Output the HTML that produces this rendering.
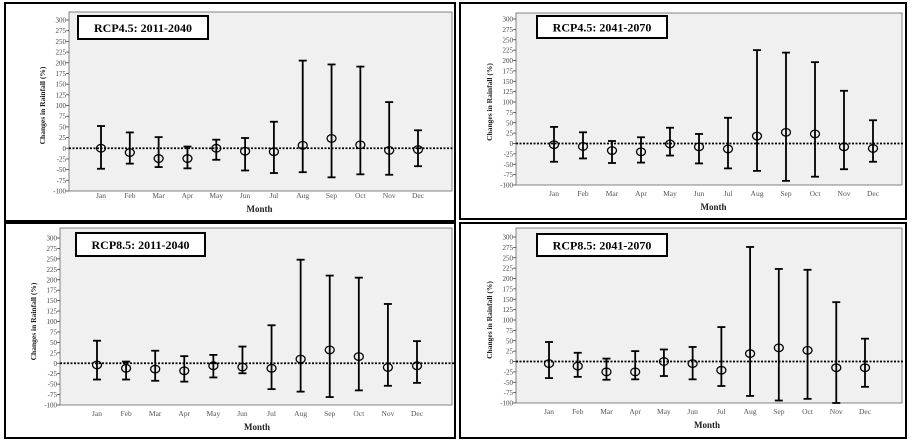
<!DOCTYPE html>
<html><head><meta charset="utf-8"><style>
body{margin:0;background:#fff;width:914px;height:446px;overflow:hidden}
svg{display:block;font-family:"Liberation Serif",serif}
</style></head><body>
<svg id="c" width="914" height="446"></svg>
<script>
const months=["Jan","Feb","Mar","Apr","May","Jun","Jul","Aug","Sep","Oct","Nov","Dec"];
const yTicks=[300,275,250,225,200,175,150,125,100,75,50,25,0,-25,-50,-75,-100];
const titles=["RCP4.5: 2011-2040","RCP4.5: 2041-2070","RCP8.5: 2011-2040","RCP8.5: 2041-2070"];
const means1=[0,-10,-24,-24,0,-7,-8,7,23,8,-5,-3];
const lows1=[-48,-36,-44,-47,-27,-52,-58,-56,-68,-61,-62,-42];
const highs1=[52,37,26,4,20,24,62,205,196,191,108,42];
const means2=[-3,-7,-17,-20,-1,-8,-13,18,27,23,-8,-12];
const lows2=[-44,-36,-47,-46,-29,-48,-60,-66,-90,-80,-62,-44];
const highs2=[40,27,6,15,38,23,62,225,219,196,127,56];
const means3=[-4,-12,-14,-18,-6,-9,-12,10,32,16,-10,-6];
const lows3=[-39,-39,-42,-44,-34,-24,-62,-68,-81,-65,-54,-47];
const highs3=[54,4,30,17,20,40,91,248,210,205,142,53];
const means4=[-5,-11,-25,-25,0,-5,-21,19,33,27,-15,-15];
const lows4=[-40,-37,-44,-43,-35,-43,-59,-83,-94,-90,-100,-61];
const highs4=[47,21,7,25,29,35,83,276,223,221,143,55];
const seriesMeans=[means1,means2,means3,means4];
const seriesLows=[lows1,lows2,lows3,lows4];
const seriesHighs=[highs1,highs2,highs3,highs4];
const L=[
 {bx:5,by:3,bw:450,bh:218,px:69,pt:12,pr:452,y300:20,ym100:191,x0:101,x11:418,tb:[78,16,130,23],ml:198,mt:212,yt:45},
 {bx:460,by:3,bw:446,bh:216,px:516,pt:13,pr:902,y300:19,ym100:185,x0:554,x11:873,tb:[537,16,130,22],ml:196,mt:210,yt:492},
 {bx:5,by:223,bw:450,bh:215,px:60,pt:228,pr:452,y300:238,ym100:405,x0:97,x11:417,tb:[76,233,129,23],ml:416,mt:430,yt:36},
 {bx:460,by:223,bw:446,bh:215,px:516,pt:228,pr:902,y300:237,ym100:403,x0:549,x11:865,tb:[537,234,130,22],ml:414,mt:428,yt:492}
];
const NS="http://www.w3.org/2000/svg";
const svg=document.getElementById('c');
function mk(t,a,p){const e=document.createElementNS(NS,t);for(const k in a)e.setAttribute(k,a[k]);(p||svg).appendChild(e);return e;}
L.forEach((g,pi)=>{
 const grp=mk('g',{});
 
 
 const ys=v=>g.y300+(300-v)*(g.ym100-g.y300)/400;
 const xs=i=>g.x0+i*(g.x11-g.x0)/11;
 const box=mk('rect',{x:g.bx,y:g.by,width:g.bw,height:g.bh,fill:'#fff',stroke:'#000','stroke-width':2},grp);
 
 
 const pa=mk('rect',{x:g.px,y:g.pt,width:g.pr-g.px,height:g.ym100-g.pt,fill:'#f0f0f0',stroke:'#666','stroke-width':0.8},grp);
 
 
 yTicks.forEach(v=>{
  const y=ys(v);
  mk('line',{x1:g.px-3,x2:g.px,y1:y,y2:y,stroke:'#444','stroke-width':0.8},grp);
  const t=mk('text',{x:g.px-3,y:y+2.5,'font-size':7,'text-anchor':'end',fill:'#444'},grp);
  t.textContent=v;
  
  
 });
 months.forEach((m,i)=>{
  const t=mk('text',{x:xs(i),y:g.ml,'font-size':7.5,'text-anchor':'middle',fill:'#555'},grp);
  t.textContent=m;
  
  
 });
 const mt=mk('text',{x:(g.x0+g.x11)/2,y:g.mt,'font-size':9,'font-weight':'bold','text-anchor':'middle',fill:'#222'},grp);
 mt.textContent='Month';
 
 
 const yc=(g.y300+g.ym100)/2;
 const yt=mk('text',{x:g.yt,y:yc,'font-size':7.5,'font-weight':'bold','text-anchor':'middle',fill:'#222',transform:`rotate(-90 ${g.yt} ${yc})`},grp);
 yt.textContent='Changes in Rainfall (%)';
 
 
 const zl=mk('line',{x1:g.px,x2:g.pr+2,y1:ys(0),y2:ys(0),stroke:'#000','stroke-width':1.8,'stroke-dasharray':'2,1.5'},grp);
 
 
 const tb=mk('rect',{x:g.tb[0],y:g.tb[1],width:g.tb[2],height:g.tb[3],fill:'#fff',stroke:'#000','stroke-width':2},grp);
 
 
 const tt=mk('text',{x:g.tb[0]+g.tb[2]/2,y:g.tb[1]+g.tb[3]/2+4.5,'font-size':12,'font-weight':'bold','text-anchor':'middle'},grp);
 tt.textContent=titles[pi];
 
 
 const M=seriesMeans[pi],Lo=seriesLows[pi],Hi=seriesHighs[pi];
 months.forEach((m,i)=>{
  const x=xs(i);
  const eb=mk('g',{stroke:'#000','stroke-width':1.8,fill:'none'},grp);
  
  
  mk('line',{x1:x,x2:x,y1:ys(Hi[i]),y2:ys(Lo[i])},eb);
  mk('line',{x1:x-4,x2:x+4,y1:ys(Hi[i]),y2:ys(Hi[i])},eb);
  mk('line',{x1:x-4,x2:x+4,y1:ys(Lo[i]),y2:ys(Lo[i])},eb);
  const c=mk('ellipse',{cx:x,cy:ys(M[i]),rx:4.5,ry:3.8,fill:'none',stroke:'#000','stroke-width':1.3},grp);
  
  
 });
});
</script>
</body></html>
